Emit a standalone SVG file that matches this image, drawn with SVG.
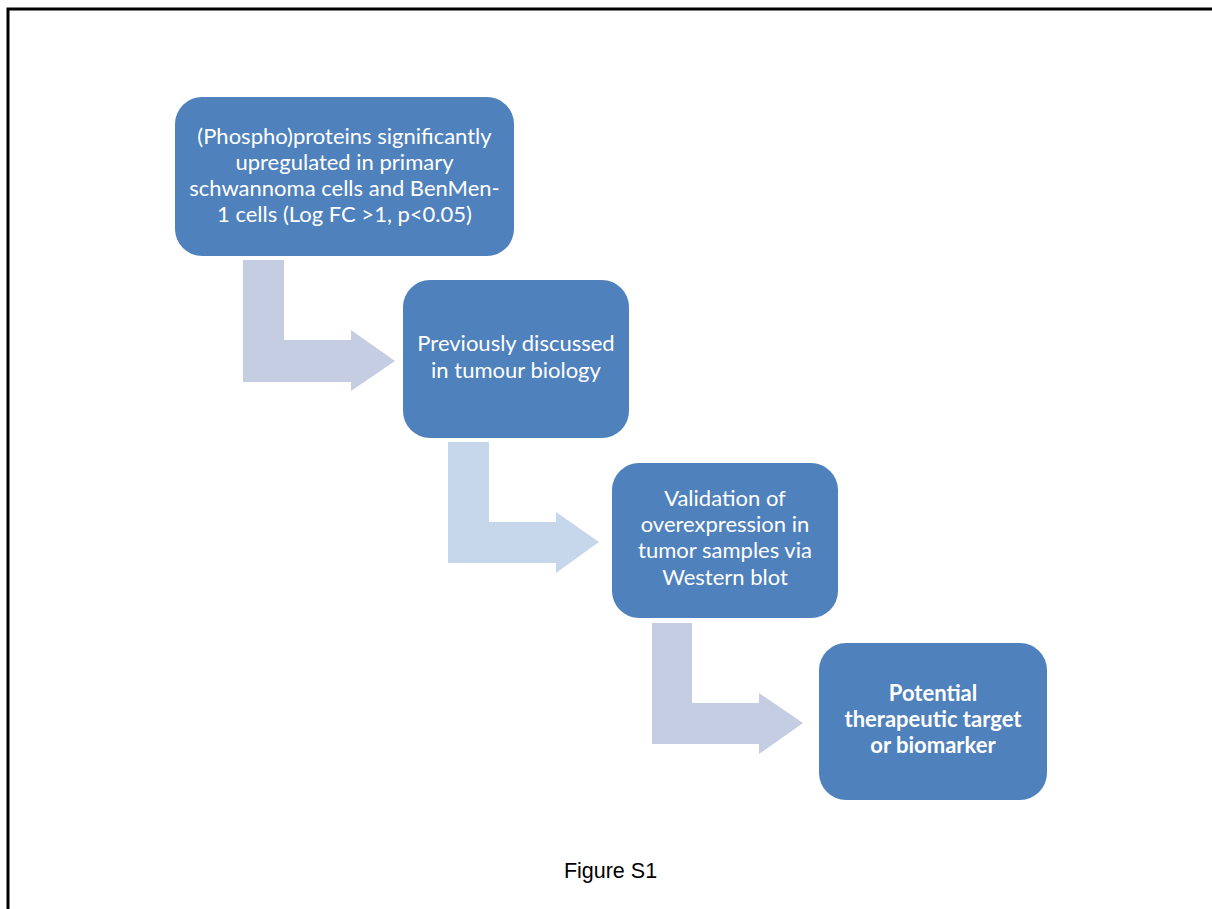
<svg xmlns="http://www.w3.org/2000/svg" width="1212" height="909" viewBox="0 0 1212 909">
<style>
.box{fill:#4F81BD;}
.t{font-family:Lato,"Open Sans","Liberation Sans",sans-serif;font-size:22px;fill:#FFFFFF;text-anchor:middle;}
.b{font-weight:bold;}
.arr{fill:#C4CDE1;}
.arr2{fill:#C6D6EB;}
.cap{font-family:"Liberation Sans",Arial,sans-serif;font-size:21.5px;fill:#000000;text-anchor:middle;}
</style>
<rect x="0" y="0" width="1212" height="909" fill="#FFFFFF"/>
<path d="M8 909 V9 H1212" fill="none" stroke="#000000" stroke-width="3"/>
<g id="connectors">
<path class="arr" d="M243 260 H284 V340 H351 V330 L395 361 L351 391 V382 H243 Z"/>
<path class="arr2" d="M448 442 H489 V522 H556 V512 L599 542 L556 573 V563 H448 Z"/>
<path class="arr" d="M652 623 H692 V703 H759 V693 L803 723 L759 754 V744 H652 Z"/>
</g>
<g id="node1">
<rect class="box" x="175" y="97" width="339" height="159" rx="27"/>
<text class="t" x="344.5" y="144">(Phospho)proteins significantly</text>
<text class="t" x="344.5" y="170">upregulated in primary</text>
<text class="t" x="344.5" y="196">schwannoma cells and BenMen-</text>
<text class="t" x="344.5" y="222">1 cells (Log FC &gt;1, p&lt;0.05)</text>
</g>
<g id="node2">
<rect class="box" x="403" y="280" width="226" height="158" rx="27"/>
<text class="t" x="516" y="351">Previously discussed</text>
<text class="t" x="516" y="378">in tumour biology</text>
</g>
<g id="node3">
<rect class="box" x="612" y="463" width="226" height="155" rx="27"/>
<text class="t" x="725" y="506">Validation of</text>
<text class="t" x="725" y="532">overexpression in</text>
<text class="t" x="725" y="558">tumor samples via</text>
<text class="t" x="725" y="585">Western blot</text>
</g>
<g id="node4">
<rect class="box" x="819" y="643" width="228" height="157" rx="27"/>
<text class="t b" x="933" y="701">Potential</text>
<text class="t b" x="933" y="727">therapeutic target</text>
<text class="t b" x="933" y="753">or biomarker</text>
</g>
<text class="cap" x="610.5" y="878">Figure S1</text>
</svg>
